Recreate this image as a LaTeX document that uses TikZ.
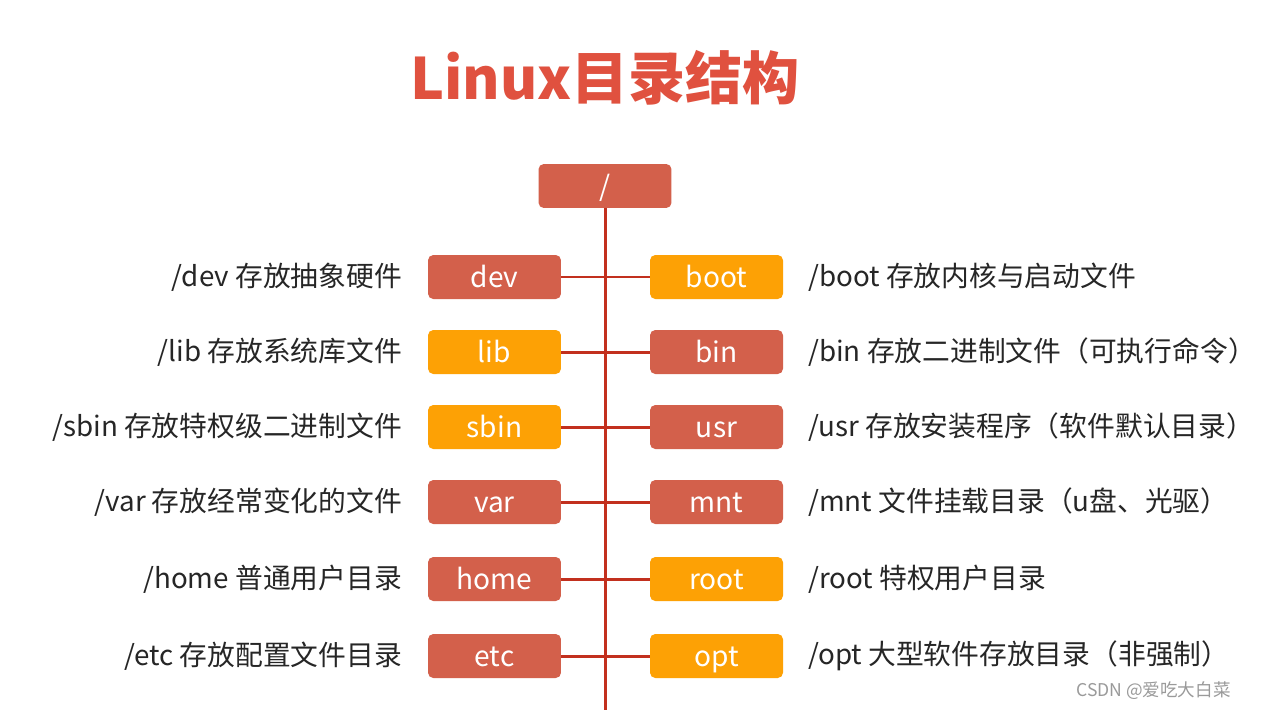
\documentclass[tikz,border=0pt]{standalone}
\usepackage{fontspec}
\setmainfont{Noto Sans CJK SC}
\usetikzlibrary{positioning}
\definecolor{dirred}{HTML}{D3604B}
\definecolor{dirorange}{HTML}{FDA105}
\definecolor{treeline}{HTML}{C2301E}
\definecolor{titlered}{HTML}{E0513F}
\definecolor{markgray}{HTML}{9A9A9A}
\definecolor{labeltext}{HTML}{262626}

\tikzset{
  dirbox/.style={rounded corners=3pt, minimum width=2.66cm, minimum height=0.88cm,
    inner sep=0pt, text=white, text height=12pt, text depth=0pt,
    font=\fontsize{16}{18}\selectfont},
  redbox/.style={dirbox, fill=dirred},
  orangebox/.style={dirbox, fill=dirorange},
  leftlabel/.style={anchor=east, inner sep=0pt, text=labeltext, font=\fontsize{15.8}{18}\selectfont},
  rightlabel/.style={anchor=west, inner sep=0pt, text=labeltext, font=\fontsize{15.8}{18}\selectfont},
  branch/.style={treeline, line width=1.7pt}
}

\begin{document}
\begin{tikzpicture}[x=0.02cm, y=-0.02cm]

% Canvas
\useasboundingbox (0,0) rectangle (1266,710);
\fill[white] (0,0) rectangle (1266,710);

% Title
\node[text=titlered, font=\fontsize{32.5}{38}\selectfont\bfseries] (title) at (605,78) {Linux目录结构};

% Root
\node[redbox] (root) at (605,186) {/};
\coordinate (bottom) at (605,710);

% Left column
\node[redbox]    (dev)  at (494.5,277) {dev};
\node[orangebox] (lib)  at (494.5,352) {lib};
\node[orangebox] (sbin) at (494.5,427) {sbin};
\node[redbox]    (var)  at (494.5,502) {var};
\node[redbox]    (home) at (494.5,579) {home};
\node[redbox]    (etc)  at (494.5,656) {etc};

% Right column
\node[orangebox] (boot)  at (716.5,277) {boot};
\node[redbox]    (bin)   at (716.5,352) {bin};
\node[redbox]    (usr)   at (716.5,427) {usr};
\node[redbox]    (mnt)   at (716.5,502) {mnt};
\node[orangebox] (rootd) at (716.5,579) {root};
\node[orangebox] (opt)   at (716.5,656) {opt};

% Tree lines
\draw[branch] (root.south) -- (bottom);
\draw[branch] (dev.east) -- (boot.west);
\draw[branch] (lib.east) -- (bin.west);
\draw[branch] (sbin.east) -- (usr.west);
\draw[branch] (var.east) -- (mnt.west);
\draw[branch] (home.east) -- (rootd.west);
\draw[branch] (etc.east) -- (opt.west);

% Left labels
\node[leftlabel, left=14.5pt of dev]  (devlbl)  {/dev 存放抽象硬件};
\node[leftlabel, left=14.5pt of lib]  (liblbl)  {/lib 存放系统库文件};
\node[leftlabel, left=14.5pt of sbin] (sbinlbl) {/sbin 存放特权级二进制文件};
\node[leftlabel, left=14.5pt of var]  (varlbl)  {/var 存放经常变化的文件};
\node[leftlabel, left=14.5pt of home] (homelbl) {/home 普通用户目录};
\node[leftlabel, left=14.5pt of etc]  (etclbl)  {/etc 存放配置文件目录};

% Right labels
\node[rightlabel, right=14pt of boot]  (bootlbl) {/boot 存放内核与启动文件};
\node[rightlabel, right=14pt of bin]   (binlbl)  {/bin 存放二进制文件（可执行命令）};
\node[rightlabel, right=14pt of usr]   (usrlbl)  {/usr 存放安装程序（软件默认目录）};
\node[rightlabel, right=14pt of mnt]   (mntlbl)  {/mnt 文件挂载目录（u盘、光驱）};
\node[rightlabel, right=14pt of rootd] (rootlbl) {/root 特权用户目录};
\node[rightlabel, right=14pt of opt]   (optlbl)  {/opt 大型软件存放目录（非强制）};

% Watermark
\node[anchor=east, inner sep=0pt, text=markgray, font=\fontsize{10}{12}\selectfont] (mark) at (1231,691) {CSDN @爱吃大白菜};

\end{tikzpicture}
\end{document}
